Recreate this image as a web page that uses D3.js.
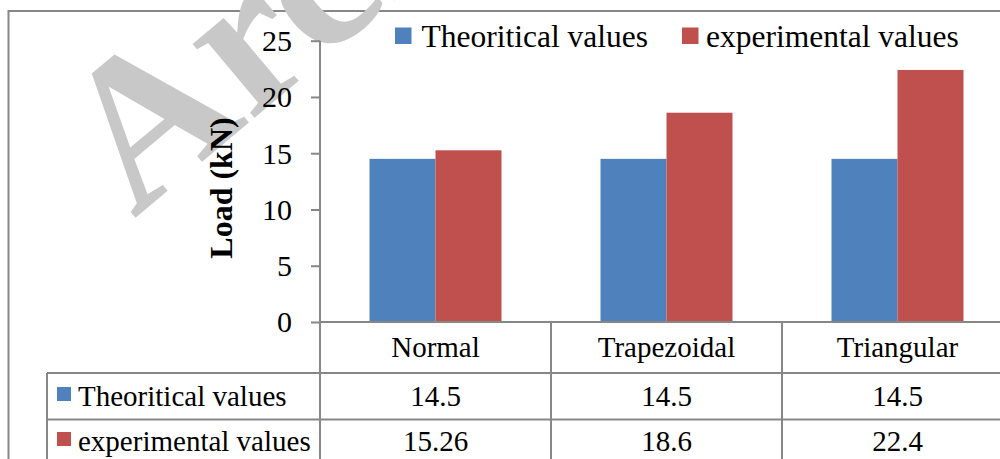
<!DOCTYPE html>
<html>
<head>
<meta charset="utf-8">
<script src="https://cdn.jsdelivr.net/npm/d3@7"></script>
<style>
  html, body { margin: 0; padding: 0; background: #fff; }
  svg { display: block; font-family: "Liberation Serif", "Times New Roman", serif; }
</style>
</head>
<body>
<svg></svg>
<script>
let categories = ['Normal', 'Trapezoidal', 'Triangular']
let seriesNames = ['Theoritical values', 'experimental values']
let theoritical = [14.5, 14.5, 14.5]
let experimental = [15.26, 18.6, 22.4]
let tableLabels = [['14.5', '14.5', '14.5'], ['15.26', '18.6', '22.4']]
let yTicks = [0, 5, 10, 15, 20, 25]
let colors = ['#4f81bd', '#c0504d']

let w = 1000
let h = 459
let lineColor = '#878787'
let axisX = 320
let colW = 231
let rowTop = [322, 373, 419.5, 466]

let svg = d3.select('svg').attr('width', w).attr('height', h)

let values = [theoritical, experimental]

let yScale = d3.scaleLinear().domain([0, 25]).range([322, 40.7])
let xScale = d3.scaleBand().domain(categories).range([axisX, axisX + colW * categories.length])
let gap = xScale.bandwidth() / 3.5 * 0.75
let sScale = d3.scaleBand().domain(seriesNames).range([gap, xScale.bandwidth() - gap])

// outer frame
svg.append('rect')
   .attr('x', 8.5).attr('y', 11)
   .attr('width', 1100).attr('height', 600)
   .attr('fill', 'none')
   .attr('stroke', lineColor)
   .attr('stroke-width', 2)

// bars
seriesNames.forEach((s, si) => {
    svg.append('g')
       .selectAll('rect')
       .data(categories)
       .enter()
       .append('rect')
       .attr('x', (d) => xScale(d) + sScale(s))
       .attr('y', (d, i) => yScale(values[si][i]))
       .attr('width', sScale.bandwidth())
       .attr('height', (d, i) => yScale(0) - yScale(values[si][i]))
       .attr('fill', colors[si])
})

// watermark
svg.append('text')
   .attr('transform', 'translate(134,219) rotate(-40)')
   .attr('font-size', 210)
   .attr('font-weight', 'bold')
   .attr('fill', '#c8c8c8')
   .text('Archive of SID')

// y axis
let yAxis = d3.axisLeft(yScale).tickValues(yTicks).tickSize(9).tickSizeOuter(0).tickPadding(19)
let gy = svg.append('g')
   .attr('transform', 'translate(' + axisX + ',0)')
   .call(yAxis)
gy.select('.domain').remove()
gy.selectAll('line').attr('stroke', lineColor).attr('stroke-width', 2)
gy.selectAll('text')
  .attr('font-size', 30)
  .attr('font-family', '"Liberation Serif", serif')
  .attr('fill', '#000')
  .attr('dy', '0.33em')

// vertical axis line + table column lines
let colEdges = categories.map((c) => xScale(c)).concat([xScale(categories[categories.length - 1]) + xScale.bandwidth()])
svg.append('line')
   .attr('x1', axisX).attr('x2', axisX)
   .attr('y1', yScale(25)).attr('y2', 480)
   .attr('stroke', lineColor).attr('stroke-width', 2)
colEdges.slice(1).forEach((x) => {
    svg.append('line')
       .attr('x1', x).attr('x2', x)
       .attr('y1', rowTop[0]).attr('y2', 480)
       .attr('stroke', lineColor).attr('stroke-width', 2)
})

// horizontal axis and table rows
svg.append('line')
   .attr('x1', axisX).attr('x2', 1020)
   .attr('y1', rowTop[0]).attr('y2', rowTop[0])
   .attr('stroke', lineColor).attr('stroke-width', 2)
rowTop.slice(1).forEach((y) => {
    svg.append('line')
       .attr('x1', 47).attr('x2', 1020)
       .attr('y1', y).attr('y2', y)
       .attr('stroke', lineColor).attr('stroke-width', 2)
})
svg.append('line')
   .attr('x1', 47).attr('x2', 47)
   .attr('y1', rowTop[1]).attr('y2', 480)
   .attr('stroke', lineColor).attr('stroke-width', 2)

// category header
svg.append('g')
   .selectAll('text')
   .data(categories)
   .enter()
   .append('text')
   .attr('x', (d) => xScale(d) + xScale.bandwidth() / 2)
   .attr('y', 357)
   .attr('text-anchor', 'middle')
   .attr('font-size', 29)
   .text((d) => d)

// table rows
seriesNames.forEach((s, si) => {
    let base = [406, 451][si]
    svg.append('rect')
       .attr('x', 57).attr('y', base - 19)
       .attr('width', 14).attr('height', 14)
       .attr('fill', colors[si])
    svg.append('text')
       .attr('x', 78).attr('y', base)
       .attr('font-size', 29)
       .text(s)
    svg.append('g')
       .selectAll('text')
       .data(categories)
       .enter()
       .append('text')
       .attr('x', (d) => xScale(d) + xScale.bandwidth() / 2)
       .attr('y', base)
       .attr('text-anchor', 'middle')
       .attr('font-size', 29)
       .text((d, i) => tableLabels[si][i])
})

// legend
let legendX = [395, 682]
seriesNames.forEach((s, si) => {
    svg.append('rect')
       .attr('x', legendX[si]).attr('y', 27.5)
       .attr('width', 16.5).attr('height', 16.5)
       .attr('fill', colors[si])
    svg.append('text')
       .attr('x', legendX[si] + (si == 0 ? 26.5 : 24))
       .attr('y', 47)
       .attr('font-size', 31.5)
       .text(s)
})

// axis title
svg.append('text')
   .attr('transform', 'translate(232,188) rotate(-90)')
   .attr('text-anchor', 'middle')
   .attr('font-size', 32)
   .attr('font-weight', 'bold')
   .text('Load (kN)')
</script>
</body>
</html>
